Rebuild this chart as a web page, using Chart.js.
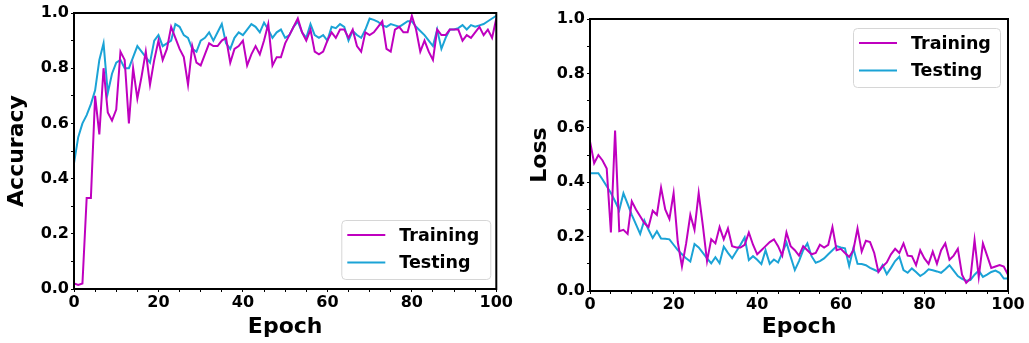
<!DOCTYPE html>
<html><head><meta charset="utf-8">
<script src="https://cdn.jsdelivr.net/npm/chart.js@4/dist/chart.umd.min.js"></script>
<style>
body{margin:0;background:#fff;width:1029px;height:343px;overflow:hidden;position:relative}
canvas.c{position:absolute;top:0}
</style></head><body>
<canvas id="acc" class="c" style="left:0px" width="514" height="343"></canvas>
<canvas id="loss" class="c" style="left:515px" width="514" height="343"></canvas>
<script>
const epochs = Array.from({length:101}, (_, i) => i);
const xTickLabels = [0, 20, 40, 60, 80, 100];
const yTickLabels = [0.0, 0.2, 0.4, 0.6, 0.8, 1.0];
const seriesNames = ["Training", "Testing"];

const trainAcc = [0.02,0.015,0.02,0.33,0.33,0.70,0.56,0.80,0.64,0.61,
 0.65,0.86,0.83,0.60,0.80,0.69,0.77,0.86,0.74,0.83,
 0.90,0.83,0.87,0.95,0.91,0.87,0.84,0.74,0.88,0.82,
 0.81,0.85,0.89,0.88,0.88,0.90,0.91,0.82,0.87,0.88,
 0.90,0.81,0.85,0.88,0.85,0.90,0.96,0.81,0.84,0.84,
 0.89,0.92,0.95,0.98,0.93,0.90,0.94,0.86,0.85,0.86,
 0.90,0.93,0.91,0.94,0.94,0.91,0.94,0.88,0.86,0.93,
 0.92,0.93,0.95,0.97,0.87,0.86,0.94,0.95,0.93,0.93,
 0.99,0.94,0.86,0.90,0.86,0.83,0.94,0.92,0.92,0.94,
 0.94,0.94,0.90,0.92,0.91,0.93,0.95,0.92,0.94,0.91,0.98];
const testAcc = [0.455,0.55,0.60,0.63,0.67,0.72,0.83,0.89,0.71,0.78,
 0.82,0.83,0.80,0.80,0.84,0.88,0.86,0.84,0.82,0.90,
 0.92,0.88,0.89,0.90,0.96,0.95,0.92,0.91,0.87,0.86,
 0.90,0.91,0.93,0.90,0.93,0.96,0.89,0.87,0.91,0.93,
 0.92,0.94,0.96,0.95,0.93,0.965,0.94,0.91,0.93,0.94,
 0.91,0.92,0.95,0.97,0.93,0.91,0.96,0.92,0.91,0.92,
 0.90,0.95,0.945,0.96,0.95,0.90,0.935,0.92,0.91,0.94,
 0.98,0.975,0.968,0.955,0.95,0.96,0.955,0.95,0.96,0.97,
 0.97,0.95,0.935,0.92,0.90,0.88,0.94,0.87,0.91,0.94,
 0.94,0.945,0.956,0.94,0.956,0.95,0.955,0.96,0.97,0.98,0.99];
const trainLoss = [0.55,0.47,0.50,0.48,0.45,0.215,0.59,0.22,0.225,0.21,
 0.33,0.30,0.275,0.25,0.235,0.295,0.28,0.38,0.30,0.265,
 0.36,0.18,0.09,0.175,0.28,0.225,0.36,0.24,0.11,0.19,
 0.175,0.235,0.19,0.23,0.165,0.16,0.16,0.17,0.215,0.17,
 0.135,0.15,0.165,0.18,0.19,0.165,0.13,0.215,0.165,0.15,
 0.13,0.165,0.15,0.135,0.14,0.17,0.16,0.17,0.235,0.15,
 0.155,0.14,0.125,0.15,0.23,0.145,0.185,0.18,0.14,0.07,
 0.09,0.105,0.135,0.155,0.14,0.175,0.13,0.128,0.095,0.15,
 0.12,0.10,0.145,0.10,0.15,0.175,0.115,0.13,0.155,0.06,
 0.03,0.046,0.187,0.052,0.175,0.13,0.085,0.09,0.095,0.09,0.06];
const testLoss = [0.433,0.433,0.433,0.41,0.385,0.36,0.33,0.297,0.359,0.32,
 0.28,0.245,0.21,0.26,0.225,0.195,0.22,0.193,0.192,0.19,
 0.17,0.15,0.135,0.12,0.108,0.173,0.16,0.14,0.12,0.102,
 0.124,0.102,0.163,0.14,0.12,0.145,0.17,0.197,0.114,0.128,
 0.115,0.099,0.15,0.10,0.116,0.105,0.14,0.178,0.126,0.077,
 0.11,0.15,0.175,0.128,0.104,0.11,0.12,0.135,0.15,0.165,
 0.16,0.157,0.092,0.157,0.10,0.099,0.095,0.085,0.078,0.071,
 0.095,0.062,0.085,0.11,0.126,0.077,0.067,0.083,0.07,0.055,
 0.065,0.08,0.076,0.072,0.067,0.08,0.095,0.075,0.055,0.045,
 0.038,0.04,0.06,0.075,0.052,0.06,0.07,0.075,0.067,0.046,0.046];

const TRAIN_COLOR = '#bf00bf';
const TEST_COLOR = '#1ba3d6';
const FONT = 'DejaVu Sans';

function pts(arr){ return arr.map((v,i)=>({x:epochs[i], y:v})); }

const framePlugin = {
  id:'frame',
  afterDraw(chart){
    const {ctx, chartArea:a} = chart;
    ctx.save();
    ctx.strokeStyle='#000'; ctx.lineWidth=2;
    ctx.strokeRect(a.left, a.top, a.right-a.left, a.bottom-a.top);
    ctx.restore();
  }
};

const boxLegend = {
  id:'boxLegend',
  afterDraw(chart, args, opts){
    const {ctx, chartArea:a} = chart;
    const w = opts.width, h = opts.height;
    const left = a.right - opts.dx - w;
    const top = opts.corner==='br' ? a.bottom - opts.dy - h : a.top + opts.dy;
    ctx.save();
    ctx.fillStyle='rgba(255,255,255,0.85)';
    ctx.strokeStyle='#d6d6d6'; ctx.lineWidth=1;
    ctx.beginPath();
    ctx.roundRect(left+0.5, top+0.5, w, h, 4);
    ctx.fill(); ctx.stroke();
    chart.data.datasets.forEach((ds, i)=>{
      const cy = top + 15 + i*27.5;
      ctx.strokeStyle = ds.borderColor; ctx.lineWidth = 2;
      ctx.beginPath(); ctx.moveTo(left+6, cy); ctx.lineTo(left+44, cy); ctx.stroke();
      ctx.fillStyle='#000';
      ctx.font = 'bold 17.5px "' + FONT + '"';
      ctx.textBaseline='middle'; ctx.textAlign='left';
      ctx.fillText(ds.label, left+58, cy+1);
    });
    ctx.restore();
  }
};

function makeChart(id, trainArr, testArr, yTitle, pad, yW, xH, legendOpts, yTitlePad){
  return new Chart(document.getElementById(id), {
    type:'line',
    data:{ datasets:[
      {label:seriesNames[0], data:pts(trainArr), borderColor:TRAIN_COLOR, borderWidth:2, pointRadius:0, tension:0, fill:false},
      {label:seriesNames[1], data:pts(testArr), borderColor:TEST_COLOR, borderWidth:2, pointRadius:0, tension:0, fill:false}
    ]},
    options:{
      responsive:false, animation:false, devicePixelRatio:1,
      layout:{padding:pad},
      plugins:{legend:{display:false}, tooltip:{enabled:false}, boxLegend:legendOpts},
      scales:{
        x:{type:'linear', min:0, max:100,
          afterFit:s=>{s.height=xH;},
          ticks:{stepSize:5, autoSkip:false, maxRotation:0, padding:1, color:'#000',
            font:{family:FONT, size:16, weight:'bold'},
            callback:v=> xTickLabels.includes(v) ? String(v) : ''},
          grid:{drawOnChartArea:false, drawTicks:true, tickLength:3, tickColor:'#000'},
          border:{display:true, color:'#000', width:2},
          title:{display:true, text:'Epoch', color:'#000', font:{family:FONT, size:22, weight:'bold'}, padding:{top:0,bottom:3}}
        },
        y:{min:0, max:1,
          afterFit:s=>{s.width=yW;},
          ticks:{stepSize:0.1, autoSkip:false, padding:2, color:'#000',
            font:{family:FONT, size:16, weight:'bold'},
            callback:v=> yTickLabels.some(t=>Math.abs(t-v)<1e-6) ? v.toFixed(1) : ''},
          grid:{drawOnChartArea:false, drawTicks:true, tickLength:3, tickColor:'#000'},
          border:{display:true, color:'#000', width:2},
          title:{display:true, text:yTitle, color:'#000', font:{family:FONT, size:22, weight:'bold'}, padding:{top:yTitlePad,bottom:0}}
        }
      }
    },
    plugins:[framePlugin, boxLegend]
  });
}

makeChart('acc', trainAcc, testAcc, 'Accuracy', {top:13,right:14,left:0,bottom:0}, 74, 54,
  {corner:'br', dx:6, dy:10, width:149, height:59}, 4);
makeChart('loss', trainLoss, testLoss, 'Loss', {top:19,right:21,left:0,bottom:0}, 75, 52,
  {corner:'tr', dx:8, dy:9, width:147, height:59}, 12);
</script>
</body></html>
